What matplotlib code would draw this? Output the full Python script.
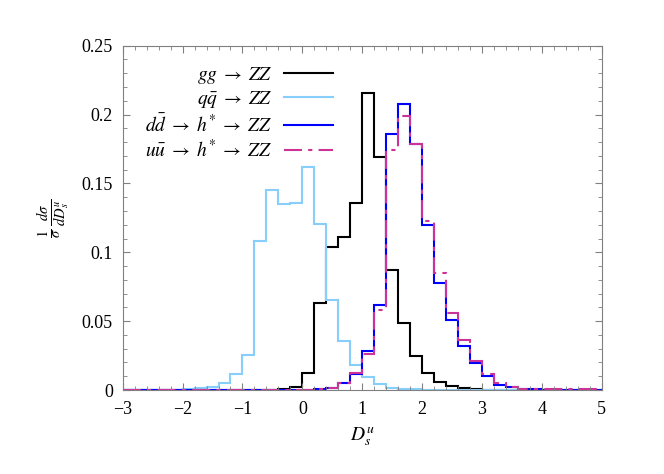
import numpy as np
import matplotlib
matplotlib.use("Agg")
import matplotlib.pyplot as plt
from matplotlib.ticker import MultipleLocator, FuncFormatter

plt.rcParams["font.family"] = ["Liberation Serif", "DejaVu Serif"]
plt.rcParams["mathtext.fontset"] = "stix"

# bin edges of the D_s^u histograms (width 0.2 from -3 to 5)
edges = np.linspace(-3, 5, 41)

# normalised distributions, one value per bin
gg_zz = [0, 0, 0, 0, 0, 0, 0, 0, 0, 0,
         0, 0, 0, 0.0005, 0.0025, 0.0121, 0.063, 0.104, 0.111, 0.136,
         0.216, 0.169, 0.0868, 0.0488, 0.0249, 0.0121, 0.0058, 0.0029, 0.0012, 0.0005,
         0.0002, 0.0001, 0, 0, 0, 0, 0, 0, 0, 0]
qq_zz = [0, 0, 0, 0, 0.0002, 0.0005, 0.0012, 0.002, 0.0053, 0.0116,
         0.0255, 0.108, 0.1453, 0.1349, 0.136, 0.162, 0.1208, 0.0657, 0.0354, 0.0185,
         0.0095, 0.0042, 0.0016, 0.0008, 0.0005, 0.0003, 0.0002, 0.0001, 0, 0,
         0, 0, 0, 0, 0, 0, 0, 0, 0, 0]
dd_h_zz = [0, 0, 0, 0, 0, 0, 0, 0, 0, 0,
           0, 0, 0, 0, 0, 0.0001, 0.0005, 0.0015, 0.005, 0.0113,
           0.028, 0.062, 0.186, 0.208, 0.1787, 0.120, 0.078, 0.051, 0.0316, 0.0193,
           0.0101, 0.0038, 0.0019, 0.001, 0.0005, 0.0002, 0.0002, 0.0002, 0.0002, 0.0002]
uu_h_zz = [0, 0, 0, 0, 0, 0, 0, 0, 0, 0,
           0, 0, 0, 0, 0, 0.0001, 0.0005, 0.0015, 0.005, 0.012,
           0.026, 0.058, 0.174, 0.199, 0.1787, 0.1225, 0.0848, 0.0557, 0.036, 0.0207,
           0.0116, 0.0053, 0.0024, 0.001, 0.0006, 0.0004, 0.0004, 0.0004, 0.0004, 0.0004]

labels = [r"$gg\;\rightarrow\;ZZ$",
          r"$q\bar{q}\;\rightarrow\;ZZ$",
          r"$d\bar{d}\;\rightarrow\;h^{*}\;\rightarrow\;ZZ$",
          r"$u\bar{u}\;\rightarrow\;h^{*}\;\rightarrow\;ZZ$"]

fig = plt.figure(figsize=(6.64, 4.74), dpi=100)
ax = fig.add_axes([0.1848, 0.1772, 0.7214, 0.7264])

lw = 1.5
ax.stairs(gg_zz, edges, color="black", lw=lw, label=labels[0])
ax.stairs(qq_zz, edges, color="#87cefa", lw=lw, label=labels[1])
ax.stairs(dd_h_zz, edges, color="#0000ff", lw=lw, label=labels[2])
ax.stairs(uu_h_zz, edges, color="#cc3399", lw=lw, label=labels[3],
          linestyle=(0, (8.6, 3, 2, 3)))

ax.set_xlim(-3, 5)
ax.set_ylim(0, 0.25)

# gnuplot-like ticks: inward, mirrored, grey frame
ax.xaxis.set_major_locator(MultipleLocator(1))
ax.xaxis.set_minor_locator(MultipleLocator(0.2))
ax.yaxis.set_major_locator(MultipleLocator(0.05))
ax.yaxis.set_minor_locator(MultipleLocator(0.01))
ax.yaxis.set_major_formatter(FuncFormatter(lambda v, p: "%g" % round(v, 3)))
ax.xaxis.set_major_formatter(FuncFormatter(lambda v, p: ("%g" % v).replace("-", "\u2212")))
ax.tick_params(which="both", direction="in", top=True, right=True, color="#808080",
               labelsize=13)
ax.tick_params(axis="x", pad=8)
ax.tick_params(axis="y", pad=7)
ax.tick_params(which="major", length=5)
ax.tick_params(which="minor", length=3)
for s in ax.spines.values():
    s.set_color("#808080")

ax.set_xlabel(r"$D_s^u$", fontsize=14)
ax.xaxis.set_label_coords(0.5, -0.1)
ax.set_ylabel(r"$\frac{1}{\sigma}\,\frac{d\sigma}{dD_s^u}$", fontsize=15, rotation=90)
ax.yaxis.set_label_coords(-0.105, 0.5)

ax.legend(loc="upper right", bbox_to_anchor=(0.439, 0.945), frameon=False,
          markerfirst=False, fontsize=14, handlelength=2.5, handletextpad=0.62,
          labelspacing=0.17, borderpad=0, borderaxespad=0)

fig.savefig("out.png", dpi=100)
